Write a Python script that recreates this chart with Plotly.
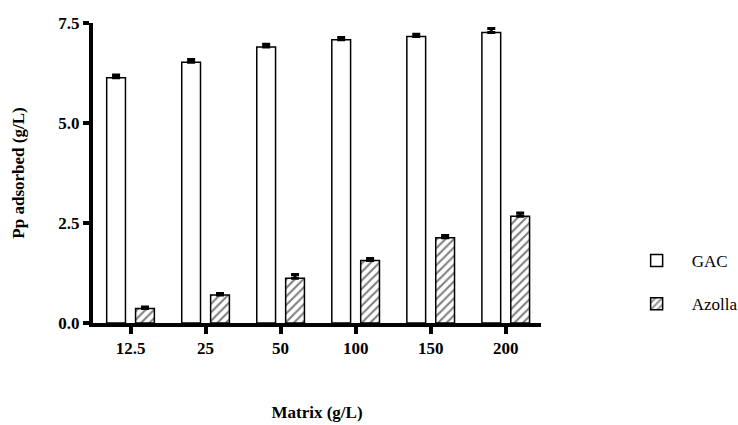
import plotly.graph_objects as go

categories = ["12.5", "25", "50", "100", "150", "200"]
gac_values = [6.13, 6.52, 6.90, 7.08, 7.16, 7.26]
gac_errors = [0.07, 0.07, 0.07, 0.06, 0.06, 0.10]
azolla_values = [0.36, 0.70, 1.12, 1.56, 2.13, 2.67]
azolla_errors = [0.04, 0.04, 0.09, 0.05, 0.06, 0.08]
y_ticks = [0.0, 2.5, 5.0, 7.5]
y_tick_labels = ["0.0", "2.5", "5.0", "7.5"]

FONT = "Times New Roman, Liberation Serif, serif"

fig = go.Figure()
fig.add_trace(go.Bar(
    name="GAC", x=categories, y=gac_values,
    marker=dict(color="white", line=dict(color="black", width=1.5)),
    error_y=dict(type="data", array=gac_errors, arrayminus=[0]*6, symmetric=False,
                 color="black", thickness=3, width=4),
    legendgroup="a",
))
fig.add_trace(go.Bar(
    name="Azolla", x=categories, y=azolla_values,
    marker=dict(color="white", line=dict(color="black", width=1.5),
                pattern=dict(shape="/", fgcolor="black", bgcolor="white", size=6, solidity=0.35)),
    error_y=dict(type="data", array=azolla_errors, arrayminus=[0]*6, symmetric=False,
                 color="black", thickness=3, width=4),
    legendgroup="b",
))

fig.update_layout(
    width=738, height=425,
    margin=dict(l=93, r=197, t=23, b=102, autoexpand=False),
    paper_bgcolor="white", plot_bgcolor="white",
    barmode="group", bargap=0.23, bargroupgap=0.35,
    font=dict(family=FONT, color="black", size=17),
    showlegend=True,
    legend=dict(x=1.18, y=0.135, xanchor="left", yanchor="middle",
                font=dict(family=FONT, size=17, color="black"),
                itemwidth=60,
                tracegroupgap=18, bgcolor="rgba(0,0,0,0)"),
)
fig.update_xaxes(
    type="category", range=[-0.5, 5.47], automargin=False,
    showline=True, linecolor="black", linewidth=4,
    ticks="outside", ticklen=7, tickwidth=4, tickcolor="black",
    tickfont=dict(family=FONT, size=17, color="black", weight="bold"),
    showgrid=False, zeroline=False,
    title=dict(text="<b>Matrix (g/L)</b>", font=dict(family=FONT, size=17), standoff=50),
)
fig.update_yaxes(
    range=[0, 7.5], tickvals=y_ticks, ticktext=y_tick_labels, automargin=False,
    showline=True, linecolor="black", linewidth=4,
    ticks="outside", ticklen=6, tickwidth=4, tickcolor="black",
    tickfont=dict(family=FONT, size=17, color="black", weight="bold"),
    showgrid=False, zeroline=False,
    title=dict(text="<b>Pp adsorbed (g/L)</b>", font=dict(family=FONT, size=17), standoff=30),
)

fig.write_html("out.html")
